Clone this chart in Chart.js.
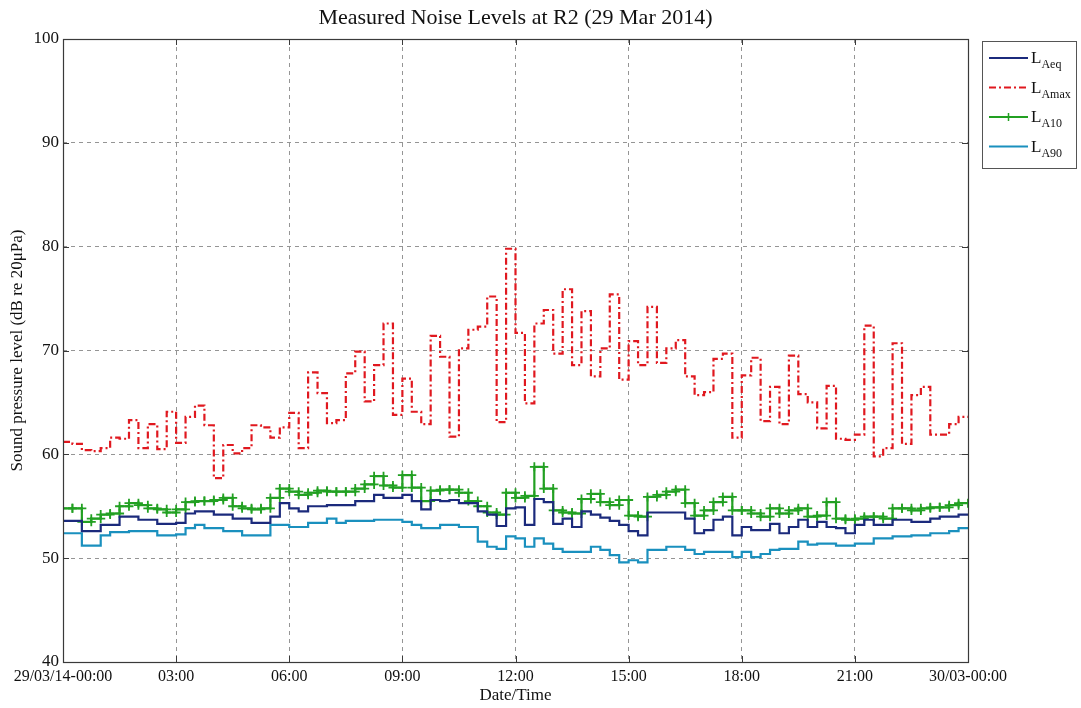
<!DOCTYPE html>
<html>
<head>
<meta charset="utf-8">
<script src="https://cdn.jsdelivr.net/npm/chart.js@4.4.1/dist/chart.umd.min.js"></script>
<style>
  html, body { margin: 0; padding: 0; background: #ffffff; }
  canvas { display: block; }
</style>
</head>
<body>
<canvas id="c" width="1081" height="708"></canvas>
<script>
// ---- Data (15-minute intervals, 29/03/14 00:00 -> 30/03 00:00) ----
const chartTitle = 'Measured Noise Levels at R2 (29 Mar 2014)';
const intervalHours = 0.25;
const seriesLabels = ['LAeq', 'LAmax', 'LA10', 'LA90'];
const xTickLabels = ['29/03/14-00:00', '03:00', '06:00', '09:00', '12:00', '15:00', '18:00', '21:00', '30/03-00:00'];
const yTicks = [40, 50, 60, 70, 80, 90, 100];

const laeq = [
  53.6, 53.6, 52.6, 52.6, 53.2, 53.2, 54.0, 54.0, 53.7, 53.7, 53.3, 53.3,
  53.4, 54.3, 54.5, 54.5, 54.2, 54.2, 53.8, 53.8, 53.4, 53.4, 54.0, 55.3,
  54.8, 54.5, 55.0, 55.0, 55.1, 55.1, 55.1, 55.5, 55.5, 56.1, 55.8, 55.8,
  56.1, 55.5, 54.7, 55.6, 55.5, 55.6, 55.3, 55.3, 54.5, 54.2, 53.1, 54.8,
  54.9, 53.2, 55.7, 55.4, 53.3, 53.8, 53.0, 54.5, 54.2, 53.9, 53.6, 53.2,
  52.6, 52.2, 54.4, 54.4, 54.4, 54.4, 53.8, 52.4, 52.7, 53.7, 54.0, 52.2,
  53.0, 52.7, 52.7, 53.3, 52.4, 53.0, 53.7, 53.0, 53.5, 53.0, 52.9, 52.4,
  53.2, 53.7, 53.2, 53.2, 53.7, 53.7, 53.5, 53.5, 53.8, 54.0, 54.0, 54.2
];
const lamax = [
  61.2, 61.0, 60.4, 60.3, 60.6, 61.6, 61.5, 63.3, 60.6, 62.9, 60.5, 64.1,
  61.1, 63.6, 64.7, 62.8, 57.7, 60.9, 60.1, 60.6, 62.8, 62.6, 61.6, 62.6,
  64.0, 60.6, 67.9, 65.9, 63.0, 63.3, 67.8, 69.9, 65.1, 68.6, 72.6, 63.8,
  67.3, 64.1, 62.9, 71.4, 69.4, 61.7, 70.2, 72.0, 72.3, 75.2, 63.1, 79.8,
  71.7, 64.9, 72.6, 73.9, 69.7, 75.9, 68.6, 73.8, 67.5, 70.2, 75.4, 67.2,
  70.9, 68.6, 74.2, 68.8, 70.2, 71.0, 67.5, 65.7, 66.0, 69.2, 69.7, 61.6,
  67.6, 69.3, 63.2, 66.5, 62.9, 69.5, 65.8, 65.0, 62.5, 66.6, 61.5, 61.4,
  61.9, 72.4, 59.8, 60.6, 70.7, 61.0, 65.7, 66.5, 61.9, 61.9, 62.9, 63.6
];
const la10 = [
  54.8, 54.8, 53.5, 53.8, 54.2, 54.3, 55.0, 55.3, 55.1, 54.8, 54.7, 54.4,
  54.7, 55.4, 55.5, 55.5, 55.6, 55.8, 55.0, 54.8, 54.7, 54.8, 55.8, 56.7,
  56.4, 56.1, 56.3, 56.5, 56.4, 56.4, 56.4, 56.7, 57.1, 57.9, 57.0, 56.8,
  58.0, 56.8, 55.5, 56.5, 56.6, 56.6, 56.3, 55.5, 55.0, 54.4, 54.2, 56.3,
  55.8, 56.0, 58.8, 56.7, 54.6, 54.4, 54.3, 55.7, 56.2, 55.4, 55.1, 55.6,
  54.1, 54.0, 55.9, 56.1, 56.4, 56.6, 55.3, 54.1, 54.6, 55.4, 55.9, 54.6,
  54.6, 54.3, 54.0, 54.8, 54.3, 54.6, 54.8, 54.0, 54.1, 55.4, 53.8, 53.7,
  53.8, 54.0, 54.0, 53.8, 54.8, 54.8, 54.6, 54.8, 54.9, 54.9, 55.1, 55.3
];
const la90 = [
  52.4, 52.4, 51.2, 51.2, 52.2, 52.5, 52.5, 52.6, 52.6, 52.6, 52.2, 52.2,
  52.3, 52.9, 53.2, 52.9, 52.9, 52.6, 52.6, 52.2, 52.2, 52.2, 53.2, 53.2,
  53.0, 53.0, 53.4, 53.4, 53.8, 53.4, 53.6, 53.6, 53.6, 53.7, 53.7, 53.7,
  53.5, 53.2, 52.9, 52.9, 53.2, 53.2, 53.0, 53.0, 51.6, 51.1, 50.9, 52.1,
  51.9, 51.1, 51.9, 51.4, 50.9, 50.6, 50.6, 50.6, 51.1, 50.8, 50.3, 49.6,
  49.8, 49.6, 50.8, 50.8, 51.1, 51.1, 50.8, 50.4, 50.6, 50.6, 50.6, 50.1,
  50.6, 50.1, 50.4, 50.8, 50.9, 50.9, 51.6, 51.3, 51.4, 51.4, 51.2, 51.2,
  51.4, 51.4, 51.9, 51.9, 52.1, 52.1, 52.2, 52.2, 52.4, 52.4, 52.6, 52.9
];

// ---- helpers to build step data from the arrays ----
function stepPoints(vals) {
  const pts = vals.map((v, i) => ({ x: i * intervalHours, y: v }));
  pts.push({ x: vals.length * intervalHours, y: vals[vals.length - 1] });
  return pts;
}
function stairVertices(vals) {
  const pts = [];
  vals.forEach((v, i) => {
    pts.push({ x: i * intervalHours, y: v });
    pts.push({ x: (i + 1) * intervalHours, y: v });
  });
  return pts;
}

const COL = {
  laeq: '#1b2a7c',
  lamax: '#e0181f',
  la10: '#22a022',
  la90: '#1a90be'
};
const SERIF = "'Liberation Serif', 'DejaVu Serif', serif";

// Title centred over the plot area
const plotTitle = {
  id: 'plotTitle',
  afterDraw(chart) {
    const { ctx, chartArea: a } = chart;
    ctx.save();
    ctx.fillStyle = '#111111';
    ctx.font = '22px ' + SERIF;
    ctx.textAlign = 'center';
    ctx.textBaseline = 'middle';
    ctx.fillText(chartTitle, (a.left + a.right) / 2, 18);
    ctx.restore();
  }
};

// Inward tick marks + box border (MATLAB style)
const boxPlugin = {
  id: 'boxPlugin',
  afterDatasetsDraw(chart) {
    const { ctx, chartArea: a, scales } = chart;
    ctx.save();
    ctx.strokeStyle = '#3a3a3a';
    ctx.lineWidth = 1;
    const tl = 6;
    ctx.beginPath();
    scales.x.ticks.forEach(t => {
      const px = Math.round(scales.x.getPixelForValue(t.value)) + 0.5;
      ctx.moveTo(px, a.bottom); ctx.lineTo(px, a.bottom - tl);
      ctx.moveTo(px, a.top); ctx.lineTo(px, a.top + tl);
    });
    scales.y.ticks.forEach(t => {
      const py = Math.round(scales.y.getPixelForValue(t.value)) + 0.5;
      ctx.moveTo(a.left, py); ctx.lineTo(a.left + tl, py);
      ctx.moveTo(a.right, py); ctx.lineTo(a.right - tl, py);
    });
    ctx.stroke();
    ctx.lineWidth = 1.2;
    ctx.strokeRect(Math.round(a.left) + 0.5, Math.round(a.top) + 0.5,
                   Math.round(a.right - a.left), Math.round(a.bottom - a.top));
    ctx.restore();
  }
};

// Legend with subscripts (L + subscript)
const subLegend = {
  id: 'subLegend',
  afterDraw(chart) {
    const { ctx } = chart;
    const left = 982, top = 41, w = 94, h = 127;
    ctx.save();
    ctx.fillStyle = '#ffffff';
    ctx.fillRect(left, top, w, h);
    ctx.strokeStyle = '#555555';
    ctx.lineWidth = 1;
    ctx.strokeRect(left + 0.5, top + 0.5, w, h);
    chart.data.datasets.forEach((ds, i) => {
      const y = 58 + i * 29.5;
      ctx.strokeStyle = ds.borderColor;
      ctx.lineWidth = ds.borderWidth;
      ctx.setLineDash(ds.borderDash || []);
      ctx.beginPath();
      ctx.moveTo(989, y); ctx.lineTo(1028, y);
      ctx.stroke();
      ctx.setLineDash([]);
      if (ds.pointStyle === 'cross') {
        ctx.lineWidth = 1.5;
        ctx.beginPath();
        ctx.moveTo(1008.5, y - 4); ctx.lineTo(1008.5, y + 4);
        ctx.moveTo(1004.5, y); ctx.lineTo(1012.5, y);
        ctx.stroke();
      }
      const lab = ds.label;
      ctx.fillStyle = '#111111';
      ctx.textBaseline = 'alphabetic';
      ctx.textAlign = 'left';
      ctx.font = '17px ' + SERIF;
      ctx.fillText(lab.charAt(0), 1031, y + 5);
      const wL = ctx.measureText(lab.charAt(0)).width;
      ctx.font = '12px ' + SERIF;
      ctx.fillText(lab.slice(1), 1031 + wL, y + 10);
    });
    ctx.restore();
  }
};

const chart = new Chart(document.getElementById('c'), {
  type: 'line',
  data: {
    datasets: [
      {
        label: seriesLabels[0],
        data: stepPoints(laeq),
        stepped: true,
        borderColor: COL.laeq,
        borderWidth: 2.2,
        pointRadius: 0
      },
      {
        label: seriesLabels[1],
        data: stepPoints(lamax),
        stepped: true,
        borderColor: COL.lamax,
        borderWidth: 2.2,
        borderDash: [7, 3, 2, 3],
        pointRadius: 0
      },
      {
        label: seriesLabels[2],
        data: stairVertices(la10),
        borderColor: COL.la10,
        borderWidth: 2.2,
        pointStyle: 'cross',
        pointRadius: 4.5,
        pointBorderWidth: 1.8,
        pointBorderColor: COL.la10,
        pointBackgroundColor: COL.la10
      },
      {
        label: seriesLabels[3],
        data: stepPoints(la90),
        stepped: true,
        borderColor: COL.la90,
        borderWidth: 2.2,
        pointRadius: 0
      }
    ]
  },
  options: {
    responsive: false,
    animation: false,
    events: [],
    layout: { padding: { top: 39, right: 113, left: 0, bottom: 0 } },
    plugins: {
      legend: { display: false },
      tooltip: { enabled: false },
      title: { display: false }
    },
    scales: {
      x: {
        type: 'linear',
        min: 0,
        max: 24,
        afterFit(s) { s.height = 46; },
        afterBuildTicks(s) {
          s.ticks = xTickLabels.map((_, i) => ({ value: i * 3 }));
        },
        ticks: {
          autoSkip: false,
          maxRotation: 0,
          padding: 5,
          color: '#111111',
          font: { family: SERIF, size: 16 },
          callback(v) { return xTickLabels[Math.round(v / 3)]; }
        },
        grid: { color: '#959595', lineWidth: 1, drawTicks: false },
        border: { display: false, dash: [4, 4] },
        title: {
          display: true,
          text: 'Date/Time',
          color: '#111111',
          font: { family: SERIF, size: 17 },
          padding: { top: 0, bottom: 2 }
        }
      },
      y: {
        min: 40,
        max: 100,
        afterFit(s) { s.width = 63; },
        afterBuildTicks(s) {
          s.ticks = yTicks.map(v => ({ value: v }));
        },
        ticks: {
          padding: 4,
          color: '#111111',
          font: { family: SERIF, size: 17 }
        },
        grid: { color: '#959595', lineWidth: 1, drawTicks: false },
        border: { display: false, dash: [4, 4] },
        title: {
          display: true,
          text: 'Sound pressure level (dB re 20μPa)',
          color: '#111111',
          font: { family: SERIF, size: 17 },
          padding: { top: 7, bottom: 0 }
        }
      }
    }
  },
  plugins: [boxPlugin, subLegend, plotTitle]
});
</script>
</body>
</html>
